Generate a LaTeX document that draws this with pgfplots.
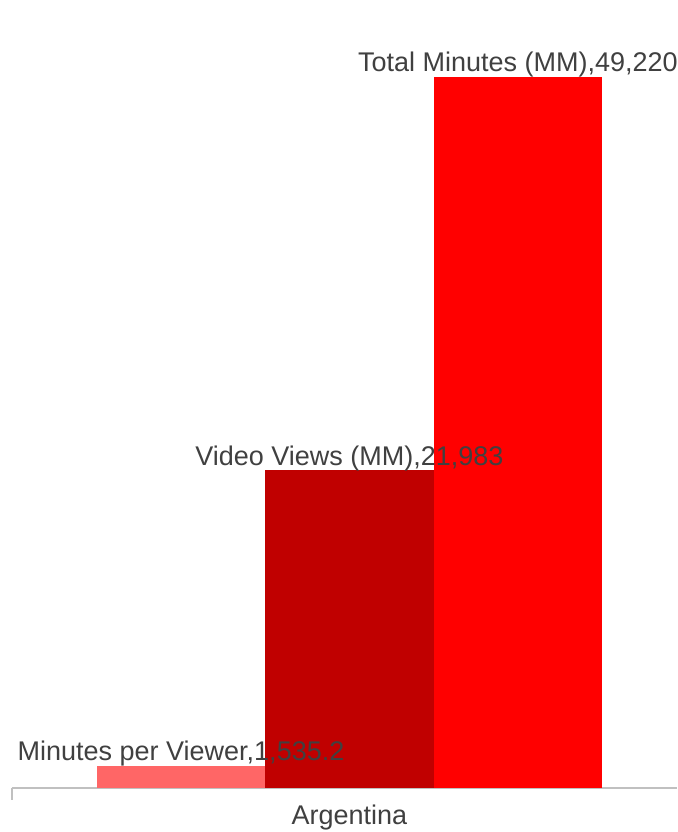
\documentclass[border=0pt]{standalone}
\usepackage{fontspec}
\setmainfont{Liberation Sans}
\usepackage{pgfplots}
\pgfplotsset{compat=1.18}
\definecolor{lblc}{HTML}{404040}
\definecolor{axc}{HTML}{C0C0C0}
\definecolor{cmpv}{HTML}{FF6666}
\definecolor{cvv}{HTML}{C00000}
\definecolor{ctm}{HTML}{FF0000}
\begin{document}
\begin{tikzpicture}
\pgfplotsset{set layers}
\begin{axis}[
  scale only axis, width=665pt, height=788pt,
  xmin=-2.003, xmax=1.944, ymin=0, ymax=54551,
  hide y axis, axis x line*=bottom,
  axis line style={draw=axc, line width=1.5pt},
  xtick={0}, xticklabels={Argentina}, major tick length=0pt,
  xticklabel style={font=\fontsize{27}{31}\selectfont, text=lblc, anchor=base, yshift=-36pt, inner sep=0pt},
  ybar, bar width=1, bar shift=0pt,
  clip=false,
  every node near coord/.append style={font=\fontsize{27}{31}\selectfont, text=lblc, anchor=base, yshift=5pt, inner sep=0pt, on layer=axis foreground},
]
\addplot[fill=cmpv, draw=none, nodes near coords={Minutes per Viewer,1,535.2}] coordinates {(-1,1535.2)};
\addplot[fill=cvv, draw=none, nodes near coords={Video Views (MM),21,983}] coordinates {(0,21983)};
\addplot[fill=ctm, draw=none, nodes near coords={Total Minutes (MM),49,220}] coordinates {(1,49220)};
\draw[axc, line width=1.5pt] (axis cs:-2.003,0) -- ([yshift=-12pt]axis cs:-2.003,0);
\end{axis}
\pgfresetboundingbox
\path (-12pt,-44pt) rectangle (665pt,788pt);
\end{tikzpicture}
\end{document}
